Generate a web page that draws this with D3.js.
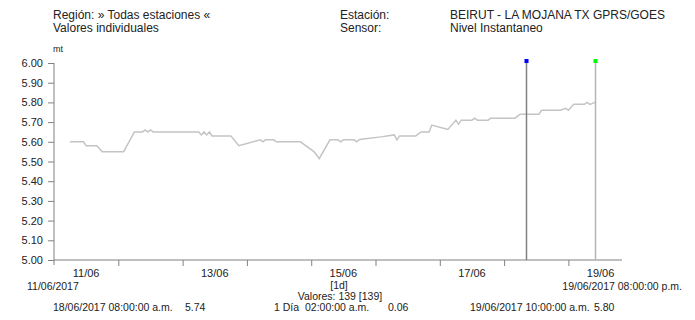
<!DOCTYPE html>
<html>
<head>
<meta charset="utf-8">
<script src="https://cdn.jsdelivr.net/npm/d3@7"></script>
<style>
  body { margin: 0; background: #fff; }
  text { font-family: "Liberation Sans", Arial, sans-serif; font-size: 11px; fill: #222; }
  .head { font-size: 12px; }
  .foot { font-size: 10.5px; }
</style>
</head>
<body>
<div id="chart"></div>
<script>
// readings (time, metres)
var times = ["2017-06-11 06:00","2017-06-11 11:00","2017-06-11 12:00","2017-06-11 16:00","2017-06-11 18:00",
  "2017-06-12 02:00","2017-06-12 06:00","2017-06-12 09:00","2017-06-12 10:00","2017-06-12 11:00","2017-06-12 12:00","2017-06-12 13:00",
  "2017-06-13 06:00","2017-06-13 07:00","2017-06-13 08:00","2017-06-13 09:00","2017-06-13 10:00","2017-06-13 11:00","2017-06-13 18:00","2017-06-13 21:00",
  "2017-06-14 05:00","2017-06-14 06:00","2017-06-14 07:00","2017-06-14 10:00","2017-06-14 11:00","2017-06-14 20:00",
  "2017-06-15 01:00","2017-06-15 03:00","2017-06-15 07:00","2017-06-15 10:00","2017-06-15 11:00","2017-06-15 12:00","2017-06-15 16:00","2017-06-15 17:00","2017-06-15 18:00",
  "2017-06-16 02:00","2017-06-16 07:00","2017-06-16 08:00","2017-06-16 09:00","2017-06-16 15:00","2017-06-16 17:00","2017-06-16 20:00","2017-06-16 21:00",
  "2017-06-17 03:00","2017-06-17 06:00","2017-06-17 07:00","2017-06-17 08:00","2017-06-17 12:00","2017-06-17 13:00","2017-06-17 14:00","2017-06-17 18:00","2017-06-17 19:00",
  "2017-06-18 04:00","2017-06-18 06:00","2017-06-18 13:00","2017-06-18 14:00","2017-06-18 21:00","2017-06-18 23:00",
  "2017-06-19 00:00","2017-06-19 02:00","2017-06-19 06:00","2017-06-19 07:00","2017-06-19 08:00","2017-06-19 10:00"];
var values = [5.60,5.60,5.58,5.58,5.55,
  5.55,5.65,5.65,5.66,5.65,5.66,5.65,
  5.65,5.635,5.65,5.635,5.65,5.63,5.63,5.58,
  5.61,5.60,5.61,5.61,5.60,5.60,
  5.55,5.515,5.61,5.61,5.60,5.61,5.61,5.60,5.612,
  5.625,5.635,5.61,5.63,5.63,5.65,5.65,5.685,
  5.663,5.71,5.69,5.71,5.71,5.72,5.71,5.71,5.72,
  5.72,5.74,5.74,5.76,5.76,5.77,
  5.76,5.79,5.79,5.80,5.79,5.80];

var yTicks = [5.0,5.1,5.2,5.3,5.4,5.5,5.6,5.7,5.8,5.9,6.0];
var dayTicks = ["2017-06-12","2017-06-13","2017-06-14","2017-06-15","2017-06-16","2017-06-17","2017-06-18","2017-06-19"];
var dayLabels = ["2017-06-11 12:00","2017-06-13 12:00","2017-06-15 12:00","2017-06-17 12:00","2017-06-19 12:00"];
var markerTimes = ["2017-06-18 08:00","2017-06-19 10:00"];
var markerColors = ["#0000ff","#00ff00"];
var markerLineColors = ["#808080","#b4b4b4"];

var parse = d3.timeParse("%Y-%m-%d %H:%M");
var parseDay = d3.timeParse("%Y-%m-%d");
var fmtDay = d3.timeFormat("%d/%m");

var data = times.map(function(t, i) { return { t: parse(t), v: values[i] }; });

var w = 695, h = 320;
var svg = d3.select("#chart").append("svg").attr("width", w).attr("height", h);

var x = d3.scaleTime()
    .domain([parse("2017-06-11 00:00"), parse("2017-06-19 20:00")])
    .range([54, 622]);
var y = d3.scaleLinear().domain([5, 6]).range([260, 63]);

// header
svg.append("text").attr("class", "head").attr("x", 53).attr("y", 19).text("Región: » Todas estaciones «");
svg.append("text").attr("class", "head").attr("x", 53).attr("y", 32).text("Valores individuales");
svg.append("text").attr("class", "head").attr("x", 340).attr("y", 19).text("Estación:");
svg.append("text").attr("class", "head").attr("x", 340).attr("y", 32).text("Sensor:");
svg.append("text").attr("class", "head").attr("x", 450).attr("y", 19).text("BEIRUT - LA MOJANA TX GPRS/GOES");
svg.append("text").attr("class", "head").attr("x", 450).attr("y", 32).text("Nivel Instantaneo");
svg.append("text").attr("x", 53).attr("y", 52).style("font-size", "9px").text("mt");

// y axis
var yAxis = d3.axisLeft(y).tickValues(yTicks).tickSize(6).tickPadding(5)
    .tickFormat(d3.format(".2f"));
var gy = svg.append("g").attr("transform", "translate(54,0)").call(yAxis);
gy.select(".domain").attr("stroke", "#808080").attr("d", "M0,63V265");
gy.selectAll(".tick line").attr("stroke", "#808080");
gy.selectAll(".tick text").attr("font-family", null).attr("font-size", null);

// x axis
var xAxis = d3.axisBottom(x).tickValues(dayTicks.map(parseDay)).tickSize(6).tickFormat("");
var gx = svg.append("g").attr("transform", "translate(0,260)").call(xAxis);
gx.select(".domain").attr("stroke", "#808080").attr("d", "M54,0H622");
gx.selectAll(".tick line").attr("stroke", "#808080");

svg.selectAll(".daylabel")
    .data(dayLabels.map(parse))
    .enter()
    .append("text")
    .attr("class", "daylabel")
    .attr("x", function(d) { return x(d); })
    .attr("y", 277)
    .attr("text-anchor", "middle")
    .text(function(d) { return fmtDay(d); });

// series
var line = d3.line()
    .x(function(d) { return x(d.t); })
    .y(function(d) { return y(d.v); });
svg.append("path")
    .datum(data)
    .attr("fill", "none")
    .attr("stroke", "#c4c4c4")
    .attr("stroke-width", 1.5)
    .attr("d", line);

// cursors
var markers = markerTimes.map(parse);
svg.selectAll(".mline")
    .data(markers)
    .enter()
    .append("line")
    .attr("x1", function(d) { return Math.round(x(d)) + 0.5; })
    .attr("x2", function(d) { return Math.round(x(d)) + 0.5; })
    .attr("y1", y(6) - 2)
    .attr("y2", y(5))
    .attr("stroke", function(d, i) { return markerLineColors[i]; })
    .attr("stroke-width", 1.5);
svg.selectAll(".mdot")
    .data(markers)
    .enter()
    .append("rect")
    .attr("x", function(d) { return Math.round(x(d)) - 1.5; })
    .attr("y", y(6) - 4)
    .attr("width", 4)
    .attr("height", 4)
    .attr("fill", function(d, i) { return markerColors[i]; });

// footer
svg.append("text").attr("class", "foot").attr("x", 27).attr("y", 290).text("11/06/2017");
svg.append("text").attr("class", "foot").attr("x", 682).attr("y", 290).attr("text-anchor", "end").text("19/06/2017 08:00:00 p.m.");
svg.append("text").attr("class", "foot").attr("x", 339).attr("y", 289).attr("text-anchor", "middle").text("[1d]");
svg.append("text").attr("class", "foot").attr("x", 340).attr("y", 300).attr("text-anchor", "middle").text("Valores: 139 [139]");
svg.append("text").attr("class", "foot").attr("x", 53).attr("y", 311).text("18/06/2017 08:00:00 a.m.");
svg.append("text").attr("class", "foot").attr("x", 185).attr("y", 311).text("5.74");
svg.append("text").attr("class", "foot").attr("x", 274).attr("y", 311).text("1 Día");
svg.append("text").attr("class", "foot").attr("x", 305).attr("y", 311).text("02:00:00 a.m.");
svg.append("text").attr("class", "foot").attr("x", 388).attr("y", 311).text("0.06");
svg.append("text").attr("class", "foot").attr("x", 470).attr("y", 311).text("19/06/2017 10:00:00 a.m.");
svg.append("text").attr("class", "foot").attr("x", 594).attr("y", 311).text("5.80");
</script>
</body>
</html>
